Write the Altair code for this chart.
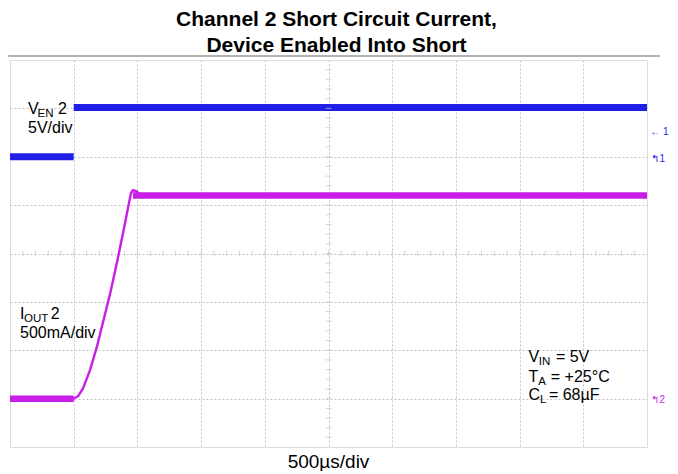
import altair as alt
import pandas as pd

# ---------------- data (divisions on the scope screen) ----------------
# V_EN 2 trace (blue): flat levels
ven_seg_start = [0.0, 1.0]
ven_seg_end = [1.0, 10.0]
ven_seg_level = [6.0, 7.02]

# I_OUT 2 trace (magenta)
iout_t = [0.0, 1.0, 1.07, 1.146, 1.256, 1.366, 1.46, 1.57, 1.68, 1.79, 1.87,
          1.90, 1.93, 1.98, 2.04, 2.14, 10.0]
iout_v = [1.0, 1.0, 1.05, 1.21, 1.59, 2.08, 2.58, 3.16, 3.82, 4.52, 5.06,
          5.25, 5.31, 5.29, 5.23, 5.2, 5.2]
iout_seg_start = [0.0, 1.93]
iout_seg_end = [1.0, 10.0]
iout_seg_level = [1.0, 5.2]

# graticule
grid_x = [1, 2, 3, 4, 5, 6, 7, 8, 9]
grid_y = [1, 2, 3, 4, 5, 6, 7]
minor_x = [round(0.2 * i, 1) for i in range(1, 50)]
minor_y = [round(0.2 * i, 1) for i in range(1, 40)]

title_lines = ["Channel 2 Short Circuit Current,", "Device Enabled Into Short"]
time_label = "500µs/div"

BLUE = "#1f1fe6"
MAGENTA = "#c81ee6"
GRID = "#c4c4c4"
FONT = "Liberation Sans"

# ---------------- frames ----------------
ven_df = pd.DataFrame({"t": ven_seg_start, "t2": ven_seg_end, "v": ven_seg_level})
iout_df = pd.DataFrame({"t": iout_t, "v": iout_v})
iout_seg_df = pd.DataFrame({"t": iout_seg_start, "t2": iout_seg_end, "v": iout_seg_level})
mx_df = pd.DataFrame({"t": minor_x})
my_df = pd.DataFrame({"v": minor_y})
one = pd.DataFrame({"k": [0]})

xscale = alt.Scale(domain=[0, 10], nice=False, zero=False)
yscale = alt.Scale(domain=[0, 8], nice=False, zero=False)
xaxis = alt.Axis(values=grid_x, grid=True, gridDash=[2, 2], gridColor=GRID, gridWidth=1,
                 labels=False, ticks=False, domain=False, title=None)
yaxis = alt.Axis(values=grid_y, grid=True, gridDash=[2, 2], gridColor=GRID, gridWidth=1,
                 labels=False, ticks=False, domain=False, title=None)

base_rule = alt.Chart(ven_df).mark_rule(color=BLUE, strokeWidth=7).encode(
    x=alt.X("t:Q", scale=xscale, axis=xaxis),
    x2="t2:Q",
    y=alt.Y("v:Q", scale=yscale, axis=yaxis),
)

ticks_h = alt.Chart(mx_df).mark_tick(orient="vertical", size=6, thickness=1, color=GRID).encode(
    x="t:Q", y=alt.datum(4)
)
ticks_v = alt.Chart(my_df).mark_tick(orient="horizontal", size=6, thickness=1, color=GRID).encode(
    y="v:Q", x=alt.datum(5)
)

iout_line = alt.Chart(iout_df).mark_line(color=MAGENTA, strokeWidth=2.4).encode(
    x="t:Q", y="v:Q"
)
iout_thick = alt.Chart(iout_seg_df).mark_rule(color=MAGENTA, strokeWidth=6.5).encode(
    x="t:Q", x2="t2:Q", y="v:Q"
)


def label(txt, x, y, size, color="black", align="left", baseline="alphabetic"):
    return alt.Chart(one).mark_text(
        text=txt, fontSize=size, font=FONT, color=color, align=align, baseline=baseline
    ).encode(x=alt.datum(x), y=alt.datum(y))


MAIN = 16
SUB = 11.5
labels = [
    # V_EN 2 / 5V/div
    label("V", 0.283, 6.88, MAIN),
    label("EN", 0.432, 6.82, SUB),
    label("2", 0.754, 6.88, MAIN),
    label("5V/div", 0.283, 6.49, MAIN),
    # I_OUT 2 / 500mA/div
    label("I", 0.157, 2.64, MAIN),
    label("OUT", 0.22, 2.58, SUB),
    label("2", 0.64, 2.64, MAIN),
    label("500mA/div", 0.157, 2.25, MAIN),
    # conditions
    label("V", 8.14, 1.753, MAIN),
    label("IN", 8.30, 1.69, SUB),
    label("= 5V", 8.57, 1.753, MAIN),
    label("T", 8.14, 1.34, MAIN),
    label("A", 8.294, 1.276, SUB),
    label("= +25°C", 8.49, 1.34, MAIN),
    label("C", 8.14, 0.966, MAIN),
    label("L", 8.32, 0.904, SUB),
    label("= 68µF", 8.46, 0.966, MAIN),
    # channel markers on the right edge
    label("← 1", 10.05, 6.51, 10, color=BLUE, baseline="middle"),
    label("↰1", 10.07, 5.95, 10, color=BLUE, baseline="middle"),
    label("↰2", 10.07, 0.97, 10, color=MAGENTA, baseline="middle"),
    # time base
    label(time_label, 5.0, -0.44, 19, align="center"),
]

top_line = alt.Chart(one).mark_rule(color="#9a9a9a", strokeWidth=1.5).encode(
    x=alt.value(-2), x2=alt.value(650), y=alt.value(-4)
)

chart = alt.layer(
    base_rule, ticks_h, ticks_v, iout_line, iout_thick, top_line, *labels
).properties(
    width=637,
    height=387,
    title=alt.TitleParams(
        text=title_lines, fontSize=21, font=FONT, fontWeight="bold", color="black",
        anchor="middle", offset=-1, lineHeight=26, dx=8,
    ),
    autosize=alt.AutoSizeParams(type="none"),
    padding={"left": 2, "top": 52, "right": 23, "bottom": 24},
).configure_view(
    stroke="#c0c0c0", strokeWidth=1.5
).configure(background="white")

chart.save("out.html", embed_options={"renderer": "svg", "actions": False})
